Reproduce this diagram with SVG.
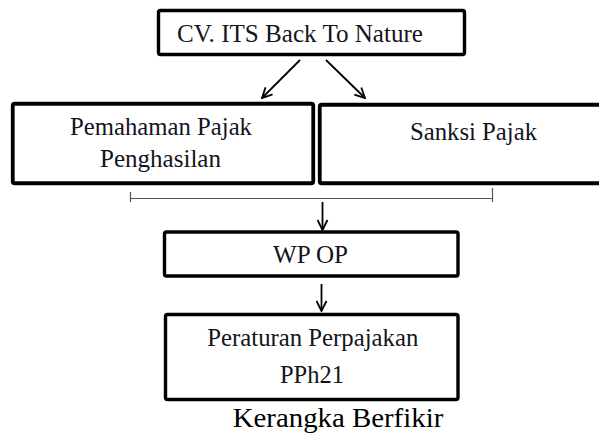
<svg xmlns="http://www.w3.org/2000/svg" width="599" height="434" viewBox="0 0 599 434">
<style>
.box{fill:#fff;stroke:#000;stroke-width:3.4}
.t{font-family:"Liberation Serif","Times New Roman",serif;font-size:25px;fill:#141420}
.cap{font-family:"Liberation Serif","Times New Roman",serif;font-size:27px;fill:#000}
.conn{stroke:#000;stroke-width:1.8;fill:none}
.brk{stroke:#555;stroke-width:1.2;fill:none}
</style>
<defs>
<marker id="arr" viewBox="0 0 12 12" refX="11" refY="6" markerWidth="12" markerHeight="12" markerUnits="userSpaceOnUse" orient="auto">
<path d="M1,1 L11,6 L1,11" fill="none" stroke="#000" stroke-width="1.8"/>
</marker>
</defs>
<rect width="599" height="434" fill="#fff"/>
<g id="node-cv">
<rect class="box" x="158.5" y="10.5" width="306" height="44" rx="2"/>
<text class="t" x="177" y="42" textLength="246" lengthAdjust="spacingAndGlyphs">CV. ITS Back To Nature</text>
</g>
<g id="node-pemahaman">
<rect class="box" x="12.75" y="103.75" width="300.5" height="79.5" rx="2" style="stroke-width:3.8"/>
<text class="t" x="70" y="135" textLength="182" lengthAdjust="spacingAndGlyphs">Pemahaman Pajak</text>
<text class="t" x="100" y="166.7" textLength="121" lengthAdjust="spacingAndGlyphs">Penghasilan</text>
</g>
<g id="node-sanksi">
<rect class="box" x="319.75" y="104.75" width="290" height="78.5" rx="2" style="stroke-width:3.8"/>
<text class="t" x="410" y="140" textLength="127" lengthAdjust="spacingAndGlyphs">Sanksi Pajak</text>
</g>
<g id="node-wpop">
<rect class="box" x="164.5" y="232" width="293.5" height="44" rx="2"/>
<text class="t" x="273" y="263.3" textLength="75" lengthAdjust="spacingAndGlyphs">WP OP</text>
</g>
<g id="node-peraturan">
<rect class="box" x="165.5" y="314.5" width="292.5" height="85" rx="2"/>
<text class="t" x="207.3" y="346" textLength="211" lengthAdjust="spacingAndGlyphs">Peraturan Perpajakan</text>
<text class="t" x="280" y="383.3" textLength="64" lengthAdjust="spacingAndGlyphs">PPh21</text>
</g>
<g id="connectors">
<line class="conn" x1="300" y1="60" x2="262" y2="98" marker-end="url(#arr)"/>
<line class="conn" x1="326" y1="60" x2="365" y2="98" marker-end="url(#arr)"/>
<path class="brk" d="M130.5,192 V202 M130.5,198.5 H492.5 M492.5,188 V202"/>
<line class="conn" x1="322.5" y1="202" x2="322.5" y2="230" marker-end="url(#arr)"/>
<line class="conn" x1="321.5" y1="284" x2="321.5" y2="311" marker-end="url(#arr)"/>
</g>
<text class="cap" x="232.7" y="426.7" textLength="210.6" lengthAdjust="spacingAndGlyphs">Kerangka Berfikir</text>
</svg>
